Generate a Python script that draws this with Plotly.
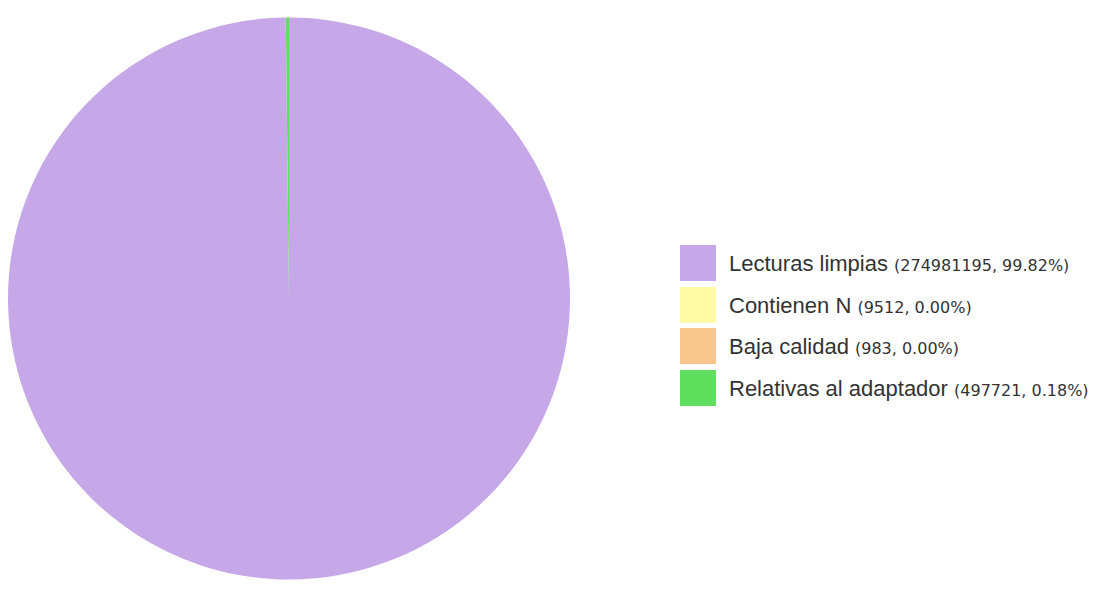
import plotly.graph_objects as go

labels = ["Lecturas limpias", "Contienen N", "Baja calidad", "Relativas al adaptador"]
values = [274981195, 9512, 983, 497721]
pct_text = ["99.82%", "0.00%", "0.00%", "0.18%"]
colors = ["#C6A8E9", "#FFFBA6", "#F9C78C", "#5EDF5E"]

W, H = 1099, 593
OFF = 8  # page body margin offset
fig = go.Figure()
cx, cy, r = 289 - OFF, 298.5 - OFF, 281
fig.add_trace(go.Pie(
    labels=labels, values=values, sort=False, direction="clockwise", rotation=0,
    marker=dict(colors=colors, line=dict(width=0)),
    textinfo="none", hoverinfo="label+value+percent", showlegend=False,
    domain=dict(x=[max(0, (cx - r) / W), (cx + r) / W],
                y=[(H - cy - r) / H, (H - cy + r) / H]),
))

# custom legend
x0, x1 = (680 - OFF) / W, (716 - OFF) / W
tx = (727 - OFF) / W
row_centers = [263, 305, 346, 388]
half = 18
for lab, val, p, c, yc in zip(labels, values, pct_text, colors, row_centers):
    yy = yc - OFF
    fig.add_shape(type="rect", xref="paper", yref="paper",
                  x0=x0, x1=x1, y0=(H - yy - half) / H, y1=(H - yy + half) / H,
                  fillcolor=c, line=dict(width=0))
    fig.add_annotation(xref="paper", yref="paper", x=tx, y=(H - yy) / H,
                       xanchor="left", yanchor="middle", showarrow=False,
                       text=f"{lab} <span style='font-size:16px;font-family:DejaVu Sans'>({val}, {p})</span>",
                       font=dict(family="Liberation Sans, Arial", size=22, color="#333333"))

fig.update_layout(width=W, height=H, margin=dict(l=0, r=0, t=0, b=0),
                  paper_bgcolor="white", plot_bgcolor="white", showlegend=False)
fig.write_html("out.html")
